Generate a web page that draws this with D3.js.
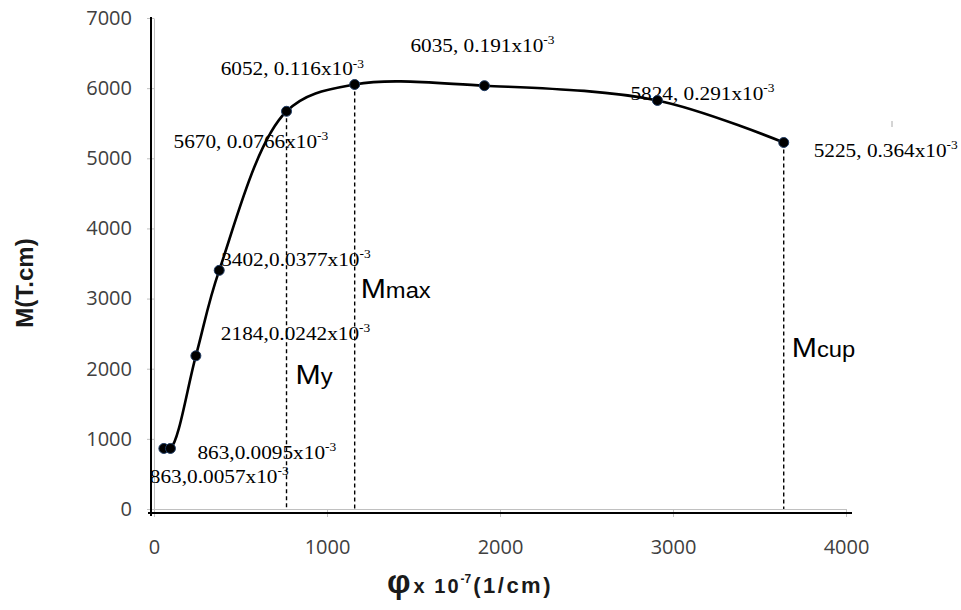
<!DOCTYPE html>
<html>
<head>
<meta charset="utf-8">
<script src="https://cdn.jsdelivr.net/npm/d3@7"></script>
<style>
body { margin: 0; background: #fff; }
svg { display: block; }
</style>
</head>
<body>
<svg></svg>
<script>
// curvature (x10^-7 1/cm) and moment (T.cm)
var phi = [57, 95, 242, 377, 766, 1160, 1910, 2910, 3640];
var moment = [863, 863, 2184, 3402, 5670, 6052, 6035, 5824, 5225];
var pointLabels = ["863,0.0057x10", "863,0.0095x10", "2184,0.0242x10", "3402,0.0377x10",
                   "5670, 0.0766x10", "6052, 0.116x10", "6035, 0.191x10", "5824, 0.291x10",
                   "5225, 0.364x10"];
var xTicks = [0, 1000, 2000, 3000, 4000];
var yTicks = [0, 1000, 2000, 3000, 4000, 5000, 6000, 7000];

// points that get a dashed drop line and a name
var limitIndex = [4, 5, 8];
var limitSub = ["y", "max", "cup"];

// layout only: label offsets from their point, and name positions
var labelOffsets = [[-14, 35], [27, 11], [25, -16], [2, -4], [-113, 37], [-134, -9], [-74, -34], [-27, 0], [30, 14]];
var limitNameDx = [9, 6, 8];
var limitNameY = [384, 298, 357];

var screen = {width: 961, height: 610};

var svg = d3.select("svg")
    .attr("width", screen.width)
    .attr("height", screen.height);

var xScale = d3.scaleLinear()
                .domain([0, 4000])
                .range([154, 846]);

var yScale = d3.scaleLinear()
                .domain([0, 7000])
                .range([509, 18]);

var tickFont = "'Open Sans', sans-serif";

var xAxis = d3.axisBottom(xScale)
                .tickValues(xTicks)
                .tickFormat(d3.format("d"))
                .tickSize(8)
                .tickSizeOuter(0)
                .tickPadding(23);

var yAxis = d3.axisLeft(yScale)
                .tickValues(yTicks)
                .tickFormat(d3.format("d"))
                .tickSize(7)
                .tickSizeOuter(0)
                .tickPadding(15);

svg.append("g")
    .attr("id", "xAxis")
    .attr("transform", "translate(0," + yScale(0) + ")")
    .call(xAxis);

svg.append("g")
    .attr("id", "yAxis")
    .attr("transform", "translate(" + xScale(0) + ",0)")
    .call(yAxis);

svg.selectAll("#xAxis, #yAxis")
    .selectAll("path, line")
    .attr("stroke", "#c0c0c0")
    .attr("stroke-width", 1);

svg.selectAll("#xAxis text, #yAxis text")
    .attr("fill", "#404040")
    .style("font-family", tickFont)
    .style("font-size", "20px");

// the heavy black frame lines just outside the grey axis lines
svg.append("line")
    .attr("x1", xScale(0) - 3).attr("x2", xScale(0) - 3)
    .attr("y1", yScale(7000) - 1).attr("y2", yScale(0) + 7)
    .attr("stroke", "#000").attr("stroke-width", 2);

svg.append("line")
    .attr("x1", xScale(0) - 6).attr("x2", xScale(4000) + 6)
    .attr("y1", yScale(0) + 4).attr("y2", yScale(0) + 4)
    .attr("stroke", "#000").attr("stroke-width", 2.2);

// dashed drop lines
svg.append("g")
    .selectAll("line")
    .data(limitIndex)
    .enter()
    .append("line")
    .attr("x1", function(i){return xScale(phi[i]);})
    .attr("x2", function(i){return xScale(phi[i]);})
    .attr("y1", function(i){return yScale(moment[i]);})
    .attr("y2", yScale(0))
    .attr("stroke", "#000")
    .attr("stroke-width", 1.4)
    .attr("stroke-dasharray", "4,3");

// point labels (Times style, superscript -3)
var labels = svg.append("g")
    .selectAll("text")
    .data(pointLabels)
    .enter()
    .append("text")
    .attr("transform", function(d, i)
    {
        var x = xScale(phi[i]) + labelOffsets[i][0];
        var y = yScale(moment[i]) + labelOffsets[i][1];
        return "translate(" + x + "," + y + ") scale(1.12,1)";
    })
    .style("font-family", "'Liberation Serif', 'Times New Roman', serif")
    .style("font-size", "19px")
    .attr("fill", "#000");

labels.append("tspan").text(function(d){return d;});
labels.append("tspan")
    .attr("dy", -8)
    .style("font-size", "12px")
    .text("-3");

// the curve
var lineGenerator = d3.line()
                        .x(function(d, i){return xScale(phi[i]);})
                        .y(function(d){return yScale(d);})
                        .curve(d3.curveCatmullRom.alpha(0.5));

svg.append("path")
    .datum(moment)
    .attr("d", lineGenerator)
    .attr("fill", "none")
    .attr("stroke", "#000")
    .attr("stroke-width", 2.6);

svg.append("g")
    .selectAll("circle")
    .data(moment)
    .enter()
    .append("circle")
    .attr("cx", function(d, i){return xScale(phi[i]);})
    .attr("cy", function(d){return yScale(d);})
    .attr("r", 5)
    .attr("fill", "#000")
    .attr("stroke", "#1f3b63")
    .attr("stroke-width", 1);

// My, Mmax, Mcup
var names = svg.append("g")
    .selectAll("text")
    .data(limitIndex)
    .enter()
    .append("text")
    .attr("transform", function(i, k)
    {
        return "translate(" + (xScale(phi[i]) + limitNameDx[k]) + "," + limitNameY[k] + ") scale(1.08,1)";
    })
    .style("font-family", "'Liberation Sans', Arial, sans-serif")
    .attr("fill", "#000");

names.append("tspan").style("font-size", "28px").text("M");
names.append("tspan").style("font-size", "22px").text(function(i, k){return limitSub[k];});

// stray grey mark to the right of the last label
svg.append("line")
    .attr("x1", 892).attr("x2", 892)
    .attr("y1", 121).attr("y2", 127)
    .attr("stroke", "#aaa").attr("stroke-width", 1);

// axis titles
svg.append("text")
    .attr("transform", "translate(24,283) rotate(-90)")
    .attr("text-anchor", "middle")
    .attr("dominant-baseline", "central")
    .style("font-family", "'Liberation Sans', Arial, sans-serif")
    .style("font-weight", "bold")
    .style("font-size", "24px")
    .attr("fill", "#1a1a1a")
    .text("M(T.cm)");

var xTitle = svg.append("text")
    .attr("x", 470)
    .attr("y", 593)
    .attr("text-anchor", "middle")
    .style("font-family", "'Liberation Sans', Arial, sans-serif")
    .style("font-weight", "bold")
    .attr("fill", "#1a1a1a");

xTitle.append("tspan").style("font-size", "33px").text("φ");
xTitle.append("tspan").style("font-size", "20px").style("letter-spacing", "2px").attr("dx", 3).text("x 10");
xTitle.append("tspan").style("font-size", "12px").attr("dy", -10).text("-7");
xTitle.append("tspan").style("font-size", "22px").style("letter-spacing", "2.5px").attr("dy", 10).attr("dx", 2).text("(1/cm)");
</script>
</body>
</html>
